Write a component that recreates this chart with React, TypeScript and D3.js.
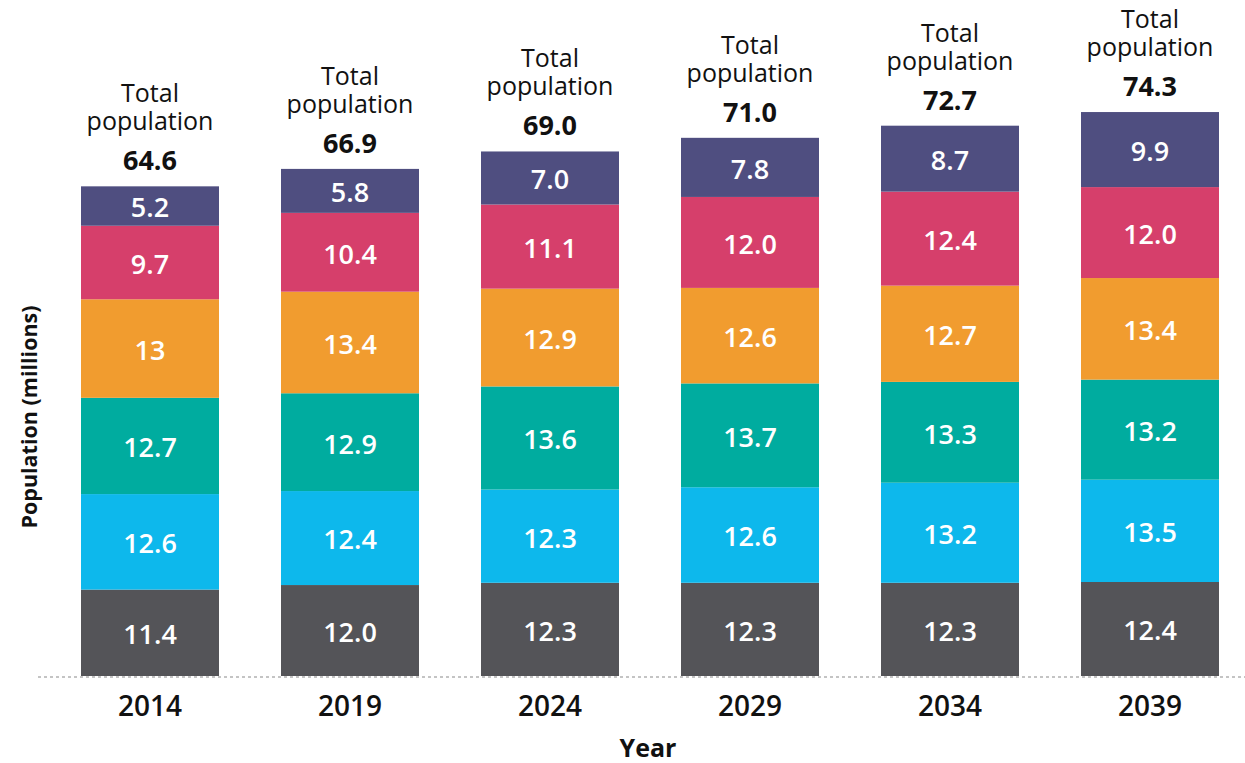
import React from 'react'
import * as d3 from 'd3'

const WIDTH = 1245
const HEIGHT = 763
const BASE_Y = 676
const FONT = '"Open Sans", "DejaVu Sans", sans-serif'

const years = ['2014', '2019', '2024', '2029', '2034', '2039']
const totals = ['64.6', '66.9', '69.0', '71.0', '72.7', '74.3']

// segments listed from the bottom of each bar to the top
const group1 = [11.4, 12.0, 12.3, 12.3, 12.3, 12.4]
const group2 = [12.6, 12.4, 12.3, 12.6, 13.2, 13.5]
const group3 = [12.7, 12.9, 13.6, 13.7, 13.3, 13.2]
const group4 = [13, 13.4, 12.9, 12.6, 12.7, 13.4]
const group5 = [9.7, 10.4, 11.1, 12.0, 12.4, 12.0]
const group6 = [5.2, 5.8, 7.0, 7.8, 8.7, 9.9]

const groupLabels = [
  ['11.4', '12.0', '12.3', '12.3', '12.3', '12.4'],
  ['12.6', '12.4', '12.3', '12.6', '13.2', '13.5'],
  ['12.7', '12.9', '13.6', '13.7', '13.3', '13.2'],
  ['13', '13.4', '12.9', '12.6', '12.7', '13.4'],
  ['9.7', '10.4', '11.1', '12.0', '12.4', '12.0'],
  ['5.2', '5.8', '7.0', '7.8', '8.7', '9.9']
]

const keys = ['g1', 'g2', 'g3', 'g4', 'g5', 'g6']
const colors = ['#545458', '#0db8ec', '#00ac9f', '#f19c2f', '#d63f6b', '#4f4e80']

const rows = years.map((year, i) => ({
  year,
  g1: group1[i],
  g2: group2[i],
  g3: group3[i],
  g4: group4[i],
  g5: group5[i],
  g6: group6[i]
}))

const App = () => {
  const x = d3.scaleBand().domain(years).range([50, 1250]).paddingInner(0.31).paddingOuter(0.155)
  const y = d3.scaleLinear().domain([0, 80]).range([BASE_Y, BASE_Y - 80 * 7.58])

  const series = d3.stack<any>().keys(keys)(rows)
  const tops = years.map((_, i) => series[series.length - 1][i][1])

  return (
    <svg
      width={WIDTH}
      height={HEIGHT}
      style={{ position: 'absolute', left: 0, top: 0, background: '#fff' }}
      fontFamily={FONT}
    >
      <line x1={38} x2={WIDTH} y1={BASE_Y + 1} y2={BASE_Y + 1} stroke="#c4c4c4" strokeWidth={2} strokeDasharray="3,3" />

      {series.map((s, si) => (
        <g key={si}>
          {s.map((d, i) => (
            <g key={i}>
              <rect
                x={x(years[i])}
                y={y(d[1])}
                width={x.bandwidth()}
                height={y(d[0]) - y(d[1])}
                fill={colors[si]}
              />
              <text
                x={x(years[i])! + x.bandwidth() / 2}
                y={(y(d[0]) + y(d[1])) / 2 + 2}
                dy="0.35em"
                textAnchor="middle"
                fill="#fff"
                fontSize={27}
                fontWeight={600}
              >
                {groupLabels[si][i]}
              </text>
            </g>
          ))}
        </g>
      ))}

      {years.map((year, i) => {
        const cx = x(year)! + x.bandwidth() / 2
        const top = y(tops[i])
        return (
          <g key={year} textAnchor="middle" fill="#111">
            <text fontSize={25}>
              <tspan x={cx} y={top - 84}>Total</tspan>
              <tspan x={cx} y={top - 56}>population</tspan>
            </text>
            <text x={cx} y={top - 16} fontSize={27} fontWeight={700}>{totals[i]}</text>
            <text x={cx} y={716} fontSize={28} fontWeight={600}>{year}</text>
          </g>
        )
      })}

      <text x={648} y={757} textAnchor="middle" fontSize={25} fontWeight={700} fill="#111">Year</text>
      <text
        transform="translate(37,417) rotate(-90)"
        textAnchor="middle"
        fontSize={21.5}
        fontWeight={700}
        fill="#111"
      >
        Population (millions)
      </text>
    </svg>
  )
}

export default App
